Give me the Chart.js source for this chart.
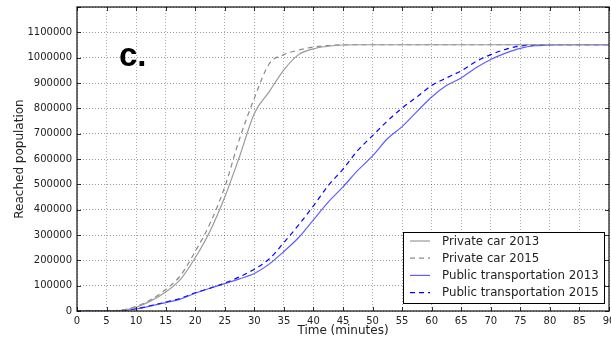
<!DOCTYPE html>
<html>
<head>
<meta charset="utf-8">
<script src="https://cdn.jsdelivr.net/npm/chart.js@4/dist/chart.umd.min.js"></script>
<style>
  html, body { margin: 0; padding: 0; background: #fff; }
  #wrap { width: 611px; height: 337px; position: relative; }
</style>
</head>
<body>
<div id="wrap"><canvas id="chart"></canvas></div>
<script>
// --- data (minutes -> reached population) ---
const minutes = [0, 2.5, 5, 7.5, 10, 12.5, 15, 17.5, 20, 22.5, 25, 27.5, 30, 32.5, 35, 37.5, 40, 42.5, 45,
  47.5, 50, 52.5, 55, 57.5, 60, 62.5, 65, 67.5, 70, 72.5, 75, 77.5, 80, 82.5, 85, 87.5, 90];

const privateCar2013 = [0, 0, 0, 3000, 15000, 40000, 75000, 125000, 210000, 315000, 450000, 610000, 780000,
  865000, 952000, 1012000, 1035000, 1045000, 1050000, 1051000, 1051000, 1051000, 1051000, 1051000, 1051000,
  1051000, 1051000, 1051000, 1051000, 1051000, 1051000, 1051000, 1051000, 1051000, 1051000, 1051000, 1051000];

const privateCar2015 = [0, 0, 0, 4000, 18000, 45000, 85000, 140000, 235000, 345000, 490000, 680000, 840000,
  975000, 1012000, 1030000, 1042000, 1048000, 1051000, 1051000, 1051000, 1051000, 1051000, 1051000, 1051000,
  1051000, 1051000, 1051000, 1051000, 1051000, 1051000, 1051000, 1051000, 1051000, 1051000, 1051000, 1051000];

const publicTransport2013 = [0, 0, 0, 2000, 8000, 20000, 33000, 47000, 70000, 90000, 108000, 127000, 148000,
  185000, 235000, 290000, 360000, 430000, 490000, 555000, 612000, 680000, 728000, 787000, 845000, 890000,
  920000, 960000, 993000, 1018000, 1037000, 1047000, 1050000, 1051000, 1051000, 1051000, 1051000];

const publicTransport2015 = [0, 0, 0, 2000, 9000, 21000, 35000, 50000, 72000, 90000, 110000, 135000, 165000,
  205000, 270000, 340000, 415000, 495000, 560000, 634000, 692000, 750000, 801000, 845000, 890000, 920000,
  948000, 985000, 1012000, 1033000, 1046000, 1050000, 1051000, 1051000, 1051000, 1051000, 1051000];

const seriesLabels = ["Private car 2013", "Private car 2015", "Public transportation 2013", "Public transportation 2015"];

const FONT = "'DejaVu Sans', sans-serif";
const pts = (vals) => minutes.map((m, i) => ({ x: m, y: vals[i] }));

// frame + inward ticks on all four sides (matplotlib classic look)
const framePlugin = {
  id: "frame",
  afterDraw(chart) {
    const { ctx, chartArea: a, scales } = chart;
    ctx.save();
    ctx.strokeStyle = "rgba(0,0,0,0.8)";
    ctx.lineWidth = 1;
    scales.x.ticks.forEach((t) => {
      const px = Math.round(scales.x.getPixelForValue(t.value)) + 0.5;
      ctx.beginPath();
      ctx.moveTo(px, a.bottom); ctx.lineTo(px, a.bottom - 4);
      ctx.moveTo(px, a.top); ctx.lineTo(px, a.top + 4);
      ctx.stroke();
    });
    scales.y.ticks.forEach((t) => {
      const py = Math.round(scales.y.getPixelForValue(t.value)) + 0.5;
      ctx.beginPath();
      ctx.moveTo(a.left, py); ctx.lineTo(a.left + 4, py);
      ctx.moveTo(a.right, py); ctx.lineTo(a.right - 4, py);
      ctx.stroke();
    });
    ctx.lineWidth = 1.5;
    ctx.strokeStyle = "rgba(0,0,0,0.75)";
    ctx.strokeRect(a.left, a.top, a.right - a.left, a.bottom - a.top);

    // panel letter
    ctx.fillStyle = "#000";
    ctx.font = "bold 33px 'Liberation Sans', Arial, sans-serif";
    ctx.textBaseline = "alphabetic";
    ctx.fillText("c.", 119, 66);
    ctx.restore();
  },
};

// legend box in the lower right corner
const legendPlugin = {
  id: "boxLegend",
  afterDraw(chart) {
    const { ctx } = chart;
    const x0 = 403, y0 = 232, w = 201, h = 71;
    ctx.save();
    ctx.fillStyle = "#fff";
    ctx.fillRect(x0, y0, w, h);
    ctx.strokeStyle = "#000";
    ctx.lineWidth = 1;
    ctx.strokeRect(x0 + 0.5, y0 + 0.5, w, h);
    ctx.font = "11.8px " + FONT;
    ctx.textBaseline = "middle";
    chart.data.datasets.forEach((ds, i) => {
      const y = y0 + 9 + i * 17.2;
      ctx.beginPath();
      ctx.setLineDash(ds.borderDash || []);
      ctx.strokeStyle = ds.borderColor;
      ctx.lineWidth = ds.borderWidth;
      ctx.moveTo(x0 + 7, y); ctx.lineTo(x0 + 27, y);
      ctx.stroke();
      ctx.setLineDash([]);
      ctx.fillStyle = "#222";
      ctx.fillText(ds.label, x0 + 39, y + 0.5);
    });
    ctx.restore();
  },
};

const line = (label, vals, color, dash) => ({
  label, data: pts(vals), borderColor: color, borderWidth: 1.2,
  borderDash: dash, pointRadius: 0, fill: false, cubicInterpolationMode: "monotone",
});

new Chart(document.getElementById("chart"), {
  type: "line",
  data: {
    datasets: [
      line(seriesLabels[0], privateCar2013, "#9a9a9a", []),
      line(seriesLabels[1], privateCar2015, "#8a8a8a", [5, 4]),
      line(seriesLabels[2], publicTransport2013, "rgba(40,40,255,0.75)", []),
      line(seriesLabels[3], publicTransport2015, "#0000ff", [5, 4]),
    ],
  },
  options: {
    responsive: true,
    maintainAspectRatio: false,
    animation: false,
    layout: { padding: { top: 7, right: 2, left: 0, bottom: 0 } },
    plugins: { legend: { display: false }, tooltip: { enabled: false } },
    scales: {
      x: {
        type: "linear", min: 0, max: 90,
        afterFit: (s) => { s.height = 26; s.paddingLeft = 0; s.paddingRight = 0; },
        ticks: { stepSize: 5, color: "#222", padding: 4, maxRotation: 0, font: { family: FONT, size: 10 } },
        grid: { color: "rgba(0,0,0,0.32)", lineWidth: 1, drawTicks: false },
        border: { display: false, dash: [1, 2] },
        title: { display: true, text: "Time (minutes)", color: "#222", padding: { top: 0, bottom: -1 },
                 font: { family: FONT, size: 12 } },
      },
      y: {
        min: 0, max: 1200000,
        afterFit: (s) => { s.width = 77; s.paddingTop = 0; s.paddingBottom = 0; },
        ticks: { stepSize: 100000, color: "#222", padding: 5, font: { family: FONT, size: 10 },
                 callback: (v) => (v >= 1200000 ? "" : String(v)) },
        grid: { color: "rgba(0,0,0,0.4)", lineWidth: 1, drawTicks: false },
        border: { display: false, dash: [1, 2] },
        title: { display: true, text: "Reached population", color: "#222", padding: { top: 13, bottom: 0 },
                 font: { family: FONT, size: 12 } },
      },
    },
  },
  plugins: [framePlugin, legendPlugin],
});
</script>
</body>
</html>
